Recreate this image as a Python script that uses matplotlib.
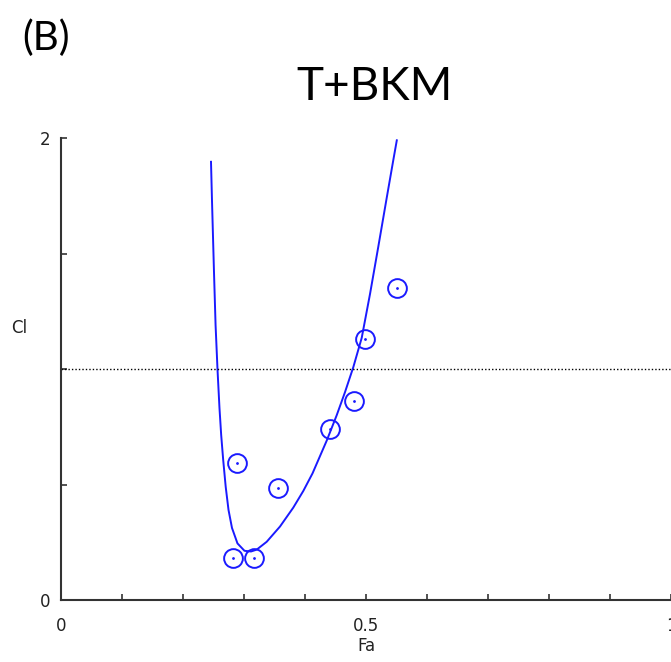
import numpy as np
import matplotlib
matplotlib.use('Agg')
import matplotlib.pyplot as plt

# measured points
fa_pts = [0.2825, 0.3164, 0.2885, 0.3557, 0.4410, 0.4803, 0.4984, 0.5503]
ci_pts = [0.180, 0.180, 0.594, 0.483, 0.739, 0.861, 1.130, 1.349]

# fitted curve
fa_fit = [0.2459, 0.2475, 0.2507, 0.2534, 0.2566, 0.2598, 0.2626, 0.2659, 0.2700,
          0.2746, 0.2803, 0.2893, 0.3008, 0.3115, 0.3208, 0.3372, 0.3590, 0.3808,
          0.3972, 0.4123, 0.4356, 0.4520, 0.4656, 0.4792, 0.4930, 0.5066, 0.5202,
          0.5339, 0.5448, 0.5505]
ci_fit = [1.897, 1.732, 1.429, 1.190, 0.996, 0.831, 0.714, 0.606, 0.490,
          0.390, 0.312, 0.245, 0.213, 0.210, 0.218, 0.252, 0.318, 0.400,
          0.472, 0.548, 0.690, 0.800, 0.900, 1.008, 1.135, 1.325, 1.530,
          1.740, 1.905, 1.990]

threshold = 1.0
xticks = np.round(np.arange(0, 1.01, 0.1), 1)
xticklabels = ['0', '', '', '', '', '0.5', '', '', '', '', '1']
yticks = [0, 0.5, 1, 1.5, 2]
yticklabels = ['0', '', '', '', '2']

fig = plt.figure(figsize=(6.71, 6.62), dpi=100)
ax = fig.add_axes([61/671, 62/662, 610/671, 462/662])

blue = '#1a1aff'
ax.plot(fa_fit, ci_fit, color=blue, lw=1.4, solid_joinstyle='round')
ax.plot(fa_pts, ci_pts, 'o', ms=13.5, mfc='none', mec=blue, mew=1.4)
ax.plot(fa_pts, ci_pts, '.', ms=2, color=blue)
ax.axhline(threshold, color='k', ls=(0, (1, 1.5)), lw=1.0)

ax.set_xlim(0, 1)
ax.set_ylim(0, 2)
for s in ['top', 'right']:
    ax.spines[s].set_visible(False)
for s in ['left', 'bottom']:
    ax.spines[s].set_linewidth(1.5)
    ax.spines[s].set_color('#333333')
    ax.spines[s].set_clip_on(False)

ax.set_xticks(xticks)
ax.set_xticklabels(xticklabels)
ax.set_yticks(yticks)
ax.set_yticklabels(yticklabels)
ax.tick_params(direction='in', length=4, width=1.2, color='#333333',
               labelsize=12, labelcolor='#222222')
ax.tick_params(axis='x', pad=12)
ax.tick_params(axis='y', pad=8)

ax.set_xlabel('Fa', fontsize=12, color='#222222', labelpad=2)
ax.set_ylabel('Cl', fontsize=12, color='#222222', rotation=0, labelpad=0)
ax.yaxis.set_label_coords(-0.068, 0.57)

fig.text(375/671, 1 - 87/662, 'T+BKM', fontsize=33, family=['Lato', 'DejaVu Sans'],
         ha='center', va='center')
fig.text(46/671, 1 - 38/662, '(B)', fontsize=29, family=['Lato', 'DejaVu Sans'],
         ha='center', va='center')

fig.savefig('out.png', dpi=100)
